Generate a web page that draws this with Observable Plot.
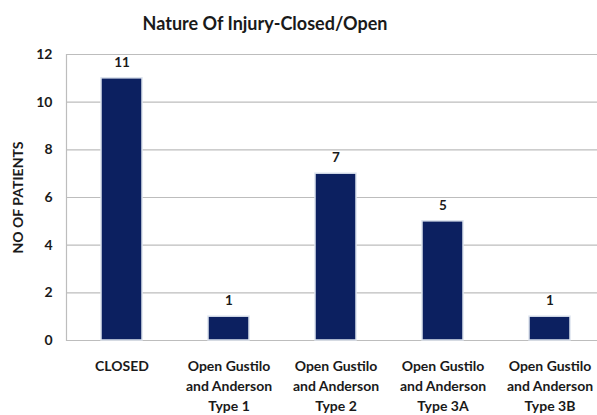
<!DOCTYPE html>
<html>
<head>
<meta charset="utf-8">
<script src="https://cdn.jsdelivr.net/npm/d3@7"></script>
<script src="https://cdn.jsdelivr.net/npm/@observablehq/plot@0.6"></script>
<style>
  html, body { margin: 0; padding: 0; background: #fff; }
  #wrap { width: 597px; height: 415px; position: relative; font-family: Lato, "Open Sans", sans-serif; }
  #title { width: 530px; height: 40px; line-height: 46px; text-align: center; font-weight: bold; font-size: 18px; color: #1a1a1a; }
</style>
</head>
<body>
<div id="wrap">
  <div id="title">Nature Of Injury-Closed/Open</div>
  <div id="chart"></div>
</div>
<script>
const categories = ["CLOSED", "Type 1", "Type 2", "Type 3A", "Type 3B"];
const values = [11, 1, 7, 5, 1];
const tickLabels = [
  "CLOSED",
  "Open Gustilo\nand Anderson\nType 1",
  "Open Gustilo\nand Anderson\nType 2",
  "Open Gustilo\nand Anderson\nType 3A",
  "Open Gustilo\nand Anderson\nType 3B"
];
const yTicks = [0, 2, 4, 6, 8, 10, 12];
const yLabel = "NO OF PATIENTS";

const data = categories.map((c, i) => ({category: c, value: values[i]}));
const labelOf = new Map(categories.map((c, i) => [c, tickLabels[i]]));

const chart = Plot.plot({
  width: 597,
  height: 375,
  marginTop: 14,
  marginBottom: 75,
  marginLeft: 66,
  marginRight: 0,
  style: {fontFamily: "Lato, 'Open Sans', sans-serif", color: "#1a1a1a", background: "#fff", fontWeight: "bold"},
  x: {domain: categories, range: [66, 604], paddingInner: 0.62, paddingOuter: 0.31},
  y: {domain: [0, 12]},
  marks: [
    Plot.ruleY(yTicks, {stroke: "#bdbdbd", strokeWidth: 1.2}),
    Plot.frame({anchor: "left", stroke: "#bdbdbd", strokeWidth: 1.2}),
    Plot.barY(data, {x: "category", y: "value", fill: "#0c2060", stroke: "#dde4ee", strokeWidth: 1.5}),
    Plot.text(data, {x: "category", y: "value", text: d => String(d.value), dy: -16, fontWeight: "bold", fontSize: 13.5, fill: "#1a1a1a"}),
    Plot.axisY({ticks: yTicks, tickSize: 0, tickPadding: 14, fontWeight: "bold", fontSize: 14,
      label: yLabel, labelAnchor: "center", labelArrow: "none", labelOffset: 53}),
    Plot.axisX({tickSize: 0, tickPadding: 17, tickFormat: d => labelOf.get(d), fontWeight: "bold", fontSize: 14, lineHeight: 1.4, label: null})
  ]
});
document.getElementById("chart").appendChild(chart);
</script>
</body>
</html>
